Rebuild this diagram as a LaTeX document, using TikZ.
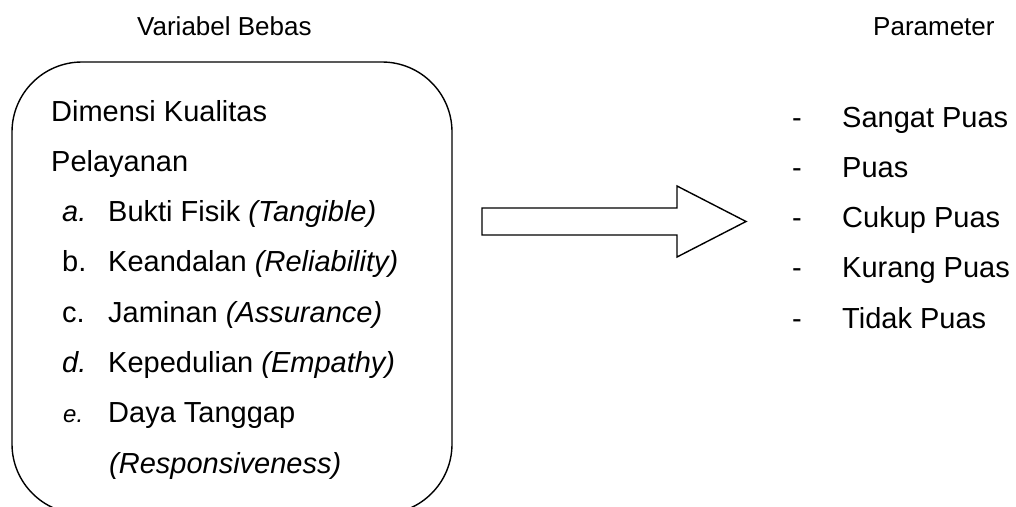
\documentclass[tikz,border=0pt]{standalone}
\usepackage{fontspec}
\setmainfont{Liberation Sans}
\usetikzlibrary{positioning}
\newlength{\lwidth}
\setlength{\lwidth}{1.4pt}
\tikzset{txt/.style={anchor=base west,inner sep=0pt,font=\fontsize{29}{34}\selectfont},
         head/.style={anchor=base west,inner sep=0pt,font=\fontsize{26}{30}\selectfont}}

\begin{document}
\begin{tikzpicture}[x=1pt,y=-1pt]
  \useasboundingbox (0,0) rectangle (1016,506);
  \clip (0,0) rectangle (1016,506);

  %% headers
  %% ------------------------------------
  \node[head] (hbebas) at (137,35) {Variabel Bebas};
  \node[head] (hparam) at (873,35) {Parameter};

  %% box of the dimensions
  %% ------------------------------------
  \coordinate (k1) at (12,62); \coordinate (k2) at (452,514);
  \draw[line width=\lwidth,rounded corners=70] (k1) rectangle (k2);

  \pgfmathsetmacro{\ltop}{121}
  \pgfmathsetmacro{\lstep}{50.3}
  \pgfmathsetmacro{\lx}{62}
  \pgfmathsetmacro{\tx}{108}
  \node[txt] (dim)  at (51,\ltop)            {Dimensi Kualitas};
  \node[txt] (pel)  at (51,\ltop+\lstep)     {Pelayanan};
  \node[txt] (la)   at (\lx,\ltop+2*\lstep)  {\itshape a.};
  \node[txt] (ta)   at (\tx,\ltop+2*\lstep)  {Bukti Fisik \textit{(Tangible)}};
  \node[txt] (lb)   at (\lx,\ltop+3*\lstep)  {b.};
  \node[txt] (tb)   at (\tx,\ltop+3*\lstep)  {Keandalan \textit{(Reliability)}};
  \node[txt] (lc)   at (\lx,\ltop+4*\lstep)  {c.};
  \node[txt] (tc)   at (\tx,\ltop+4*\lstep)  {Jaminan \textit{(Assurance)}};
  \node[txt] (ld)   at (\lx,\ltop+5*\lstep)  {\itshape d.};
  \node[txt] (td)   at (\tx,\ltop+5*\lstep)  {Kepedulian \textit{(Empathy)}};
  \node[txt,font=\fontsize{24}{28}\selectfont\itshape] (le) at (\lx+1,\ltop+6*\lstep) {e.};
  \node[txt] (te)   at (\tx,\ltop+6*\lstep)  {Daya Tanggap};
  \node[txt] (te2)  at (\tx+1,\ltop+7*\lstep) {\textit{(Responsiveness)}};

  %% block arrow
  %% ------------------------------------
  \coordinate (a1) at (482,208); \coordinate (a2) at (677,208);
  \coordinate (a3) at (677,186); \coordinate (a4) at (746,221.5);
  \coordinate (a5) at (677,257); \coordinate (a6) at (677,235);
  \coordinate (a7) at (482,235);
  \draw[line width=\lwidth,line join=miter] (a1)--(a2)--(a3)--(a4)--(a5)--(a6)--(a7)--cycle;

  %% parameter list
  %% ------------------------------------
  \pgfmathsetmacro{\ptop}{127}
  \pgfmathsetmacro{\pstep}{50.3}
  \node[txt] (d1) at (792,\ptop)          {-};
  \node[txt] (p1) at (842,\ptop)          {Sangat Puas};
  \node[txt] (d2) at (792,\ptop+\pstep)   {-};
  \node[txt] (p2) at (842,\ptop+\pstep)   {Puas};
  \node[txt] (d3) at (792,\ptop+2*\pstep) {-};
  \node[txt] (p3) at (842,\ptop+2*\pstep) {Cukup Puas};
  \node[txt] (d4) at (792,\ptop+3*\pstep) {-};
  \node[txt] (p4) at (842,\ptop+3*\pstep) {Kurang Puas};
  \node[txt] (d5) at (792,\ptop+4*\pstep) {-};
  \node[txt] (p5) at (842,\ptop+4*\pstep) {Tidak Puas};

\end{tikzpicture}
\end{document}
